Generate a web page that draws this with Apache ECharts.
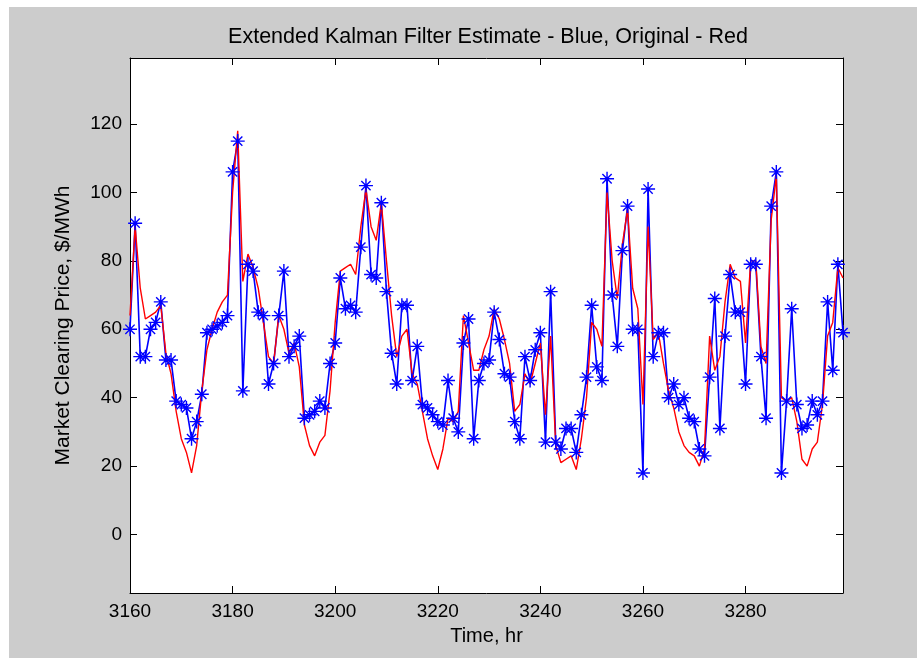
<!DOCTYPE html>
<html>
<head>
<meta charset="utf-8">
<script src="https://cdn.jsdelivr.net/npm/echarts@6/dist/echarts.min.js"></script>
<style>
  html, body { margin: 0; padding: 0; background: #ffffff; }
  #chart { position: absolute; left: 9px; top: 7px; width: 908px; height: 651px; }
</style>
</head>
<body>
<div id="chart"></div>
<script>
'use strict'

// hourly samples, 3160..3299
var startHour = 3160;

// original market clearing price (red)
var originalPrice = [
  64, 90, 72, 63, 64, 65, 67, 53, 47, 36,
  28, 24, 18, 26, 42, 54, 60, 65, 68, 70,
  100, 118, 74, 82, 78, 72, 62, 52, 50, 64,
  60, 53, 56, 49, 32, 26, 23, 27, 29, 42,
  62, 77, 78, 79, 76, 90, 101, 90, 86, 97,
  80, 64, 52, 58, 60, 47, 44, 36, 28, 23,
  19, 25, 34, 33, 36, 64, 56, 48, 48, 54,
  58, 66, 63, 57, 50, 36, 38, 47, 44, 50,
  56, 35, 58, 26, 21, 22, 23, 19, 28, 40,
  62, 60, 55, 100, 80, 69, 85, 95, 72, 66,
  38, 90, 57, 59, 50, 42, 37, 30, 26, 24,
  23, 20, 25, 58, 48, 52, 68, 79, 75, 74,
  56, 80, 80, 55, 50, 92, 105, 40, 39, 40,
  33, 22, 20, 25, 27, 38, 58, 62, 78, 75
];

// extended kalman filter estimate (blue)
var ekfEstimate = [
  60, 91, 52, 52, 60, 62, 68, 51, 51, 39,
  38, 37, 28, 33, 41, 59, 60, 61, 62, 64,
  106, 115, 42, 79, 77, 65, 64, 44, 50, 64,
  77, 52, 55, 58, 34, 35, 36, 39, 37, 50,
  56, 75, 66, 67, 65, 84, 102, 76, 75, 97,
  71, 53, 44, 67, 67, 45, 55, 38, 37, 35,
  33, 32, 45, 34, 30, 56, 63, 28, 45, 50,
  51, 65, 57, 47, 46, 33, 28, 52, 45, 54,
  59, 27, 71, 27, 25, 31, 31, 24, 35, 46,
  67, 49, 45, 104, 70, 55, 83, 96, 60, 60,
  18, 101, 52, 59, 59, 40, 44, 38, 40, 34,
  33, 25, 23, 46, 69, 31, 58, 76, 65, 65,
  44, 79, 79, 52, 34, 96, 106, 18, 39, 66,
  38, 31, 32, 39, 35, 39, 68, 48, 79, 59
];

var xTicks = [3160, 3180, 3200, 3220, 3240, 3260, 3280];
var yTicks = [0, 20, 40, 60, 80, 100, 120];

var xMin = 3160, xMax = 3299;
var yMin = -17.1, yMax = 139.3;

function pairs(values) {
  var out = [];
  for (var i = 0; i < values.length; i++) {
    out.push([startHour + i, values[i]]);
  }
  return out;
}

// matlab style '*' marker
var starPath = 'path://M10.8 0H13.2V24H10.8Z M0 10.8H24V13.2H0Z ' +
  'M4.9 3.2L20.8 19.1L19.1 20.8L3.2 4.9Z M19.1 3.2L20.8 4.9L4.9 20.8L3.2 19.1Z';

var font = 'Liberation Sans';

function plain(v) { return String(v); }

function xAx(pos, show) {
  return {
    type: 'value', position: pos, min: xMin, max: xMax,
    axisLine: { show: true, onZero: false, lineStyle: { color: '#000', width: 1 } },
    axisTick: { show: true, inside: true, length: 7, customValues: xTicks, lineStyle: { color: '#000' } },
    axisLabel: { show: show, customValues: xTicks, formatter: plain, color: '#000', fontSize: 19, fontFamily: font, margin: 9 },
    splitLine: { show: false },
    name: show ? 'Time, hr' : '',
    nameLocation: 'middle', nameGap: 33,
    nameTextStyle: { color: '#000', fontSize: 20, fontFamily: font }
  };
}

function yAx(pos, show) {
  return {
    type: 'value', position: pos, min: yMin, max: yMax,
    axisLine: { show: true, onZero: false, lineStyle: { color: '#000', width: 1 } },
    axisTick: { show: true, inside: true, length: 7, customValues: yTicks, lineStyle: { color: '#000' } },
    axisLabel: { show: show, customValues: yTicks, formatter: plain, color: '#000', fontSize: 19, fontFamily: font, margin: 8 },
    splitLine: { show: false },
    name: show ? 'Market Clearing Price, $/MWh' : '',
    nameLocation: 'middle', nameGap: 56, nameRotate: 90,
    nameTextStyle: { color: '#000', fontSize: 21, fontFamily: font }
  };
}

var chart = echarts.init(document.getElementById('chart'));
chart.setOption({
  animation: false,
  backgroundColor: '#cccccc',
  title: {
    text: 'Extended Kalman Filter Estimate - Blue, Original - Red',
    left: 474, top: 14, textAlign: 'center',
    textStyle: { color: '#000', fontSize: 21.5, fontWeight: 'normal', fontFamily: font }
  },
  grid: { left: 121, top: 51, width: 713, height: 535, show: true, backgroundColor: '#ffffff', borderWidth: 0 },
  xAxis: [xAx('bottom', true), xAx('top', false)],
  yAxis: [yAx('left', true), yAx('right', false)],
  series: [
    {
      name: 'Estimate', type: 'line', data: pairs(ekfEstimate),
      symbol: starPath, symbolSize: 14, showAllSymbol: true,
      itemStyle: { color: '#0000ff' },
      lineStyle: { color: '#0000ff', width: 1.6 }
    },
    {
      name: 'Original', type: 'line', data: pairs(originalPrice),
      symbol: 'none',
      lineStyle: { color: '#ff0000', width: 1.4 }
    }
  ]
});
</script>
</body>
</html>
